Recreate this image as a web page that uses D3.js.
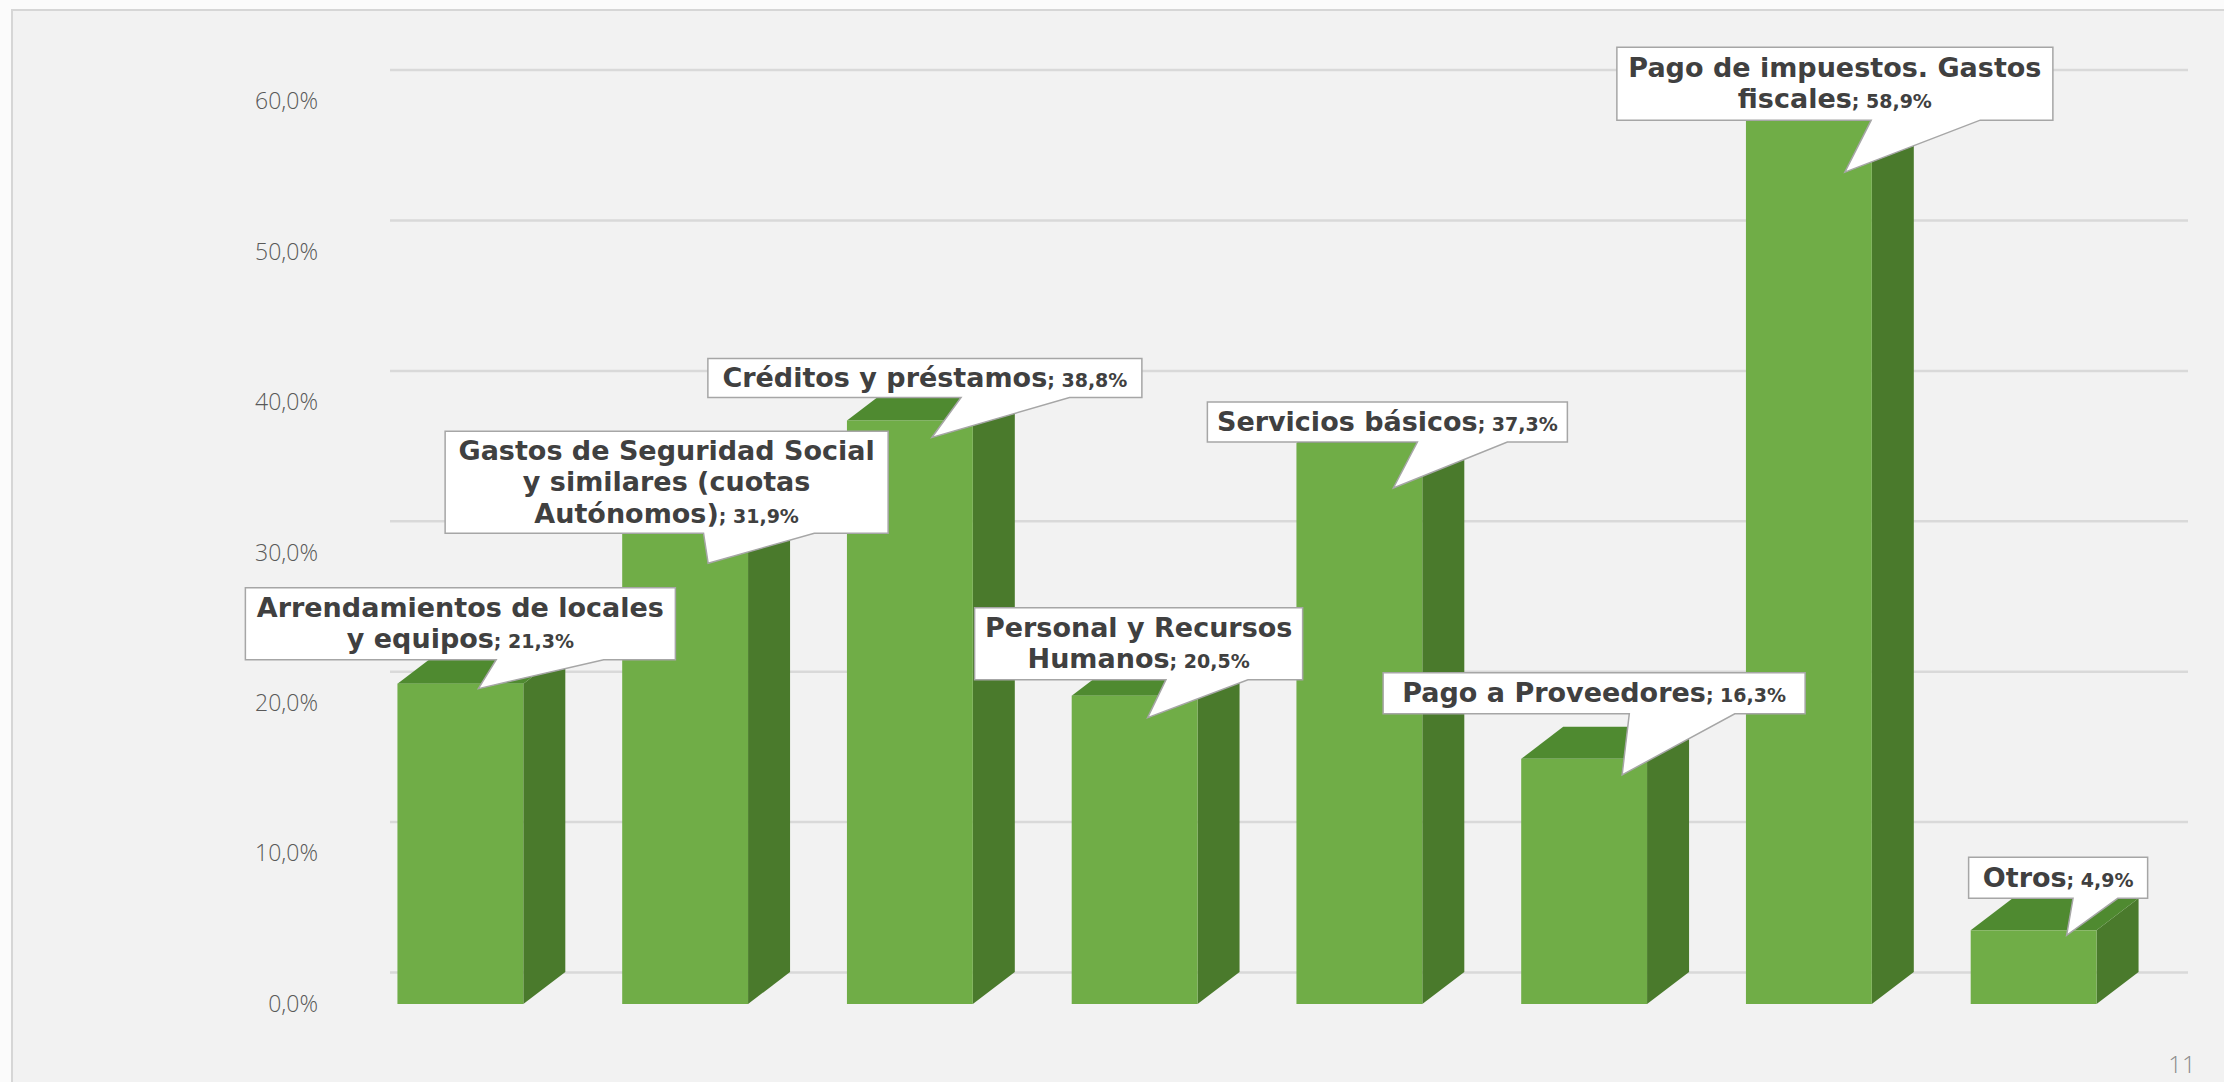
<!DOCTYPE html>
<html>
<head>
<meta charset="utf-8">
<script src="https://cdn.jsdelivr.net/npm/d3@7/dist/d3.min.js"></script>
<style>
  html, body { margin: 0; padding: 0; background: #ffffff; overflow: hidden; }
  svg { display: block; }
</style>
</head>
<body>
<svg id="chart" width="2224" height="1082"></svg>
<script>
// ---------------- data ----------------
const categories = [
  "Arrendamientos de locales y equipos",
  "Gastos de Seguridad Social y similares (cuotas Autónomos)",
  "Créditos y préstamos",
  "Personal y Recursos Humanos",
  "Servicios básicos",
  "Pago a Proveedores",
  "Pago de impuestos. Gastos fiscales",
  "Otros"
];
const labelLines = [
  ["Arrendamientos de locales", "y equipos"],
  ["Gastos de Seguridad Social", "y similares (cuotas", "Autónomos)"],
  ["Créditos y préstamos"],
  ["Personal y Recursos", "Humanos"],
  ["Servicios básicos"],
  ["Pago a Proveedores"],
  ["Pago de impuestos. Gastos", "fiscales"],
  ["Otros"]
];
const values = [21.3, 31.9, 38.8, 20.5, 37.3, 16.3, 58.9, 4.9];
const yTicks = [0, 10, 20, 30, 40, 50, 60];
const pageNumber = "11";

// ---------------- layout (positions / sizes only) ----------------
// callout box offset from bar anchor (front-top-centre), box size, wedge tip offset
const labelLayout = [
  { dx: -215, dy: -96, w: 430, h: 72,  tdx: 18, tdy: 5 },
  { dx: -240, dy: -93, w: 443, h: 102, tdx: 23, tdy: 39 },
  { dx: -202, dy: -62, w: 434, h: 39,  tdx: 22, tdy: 17 },
  { dx: -160, dy: -88, w: 328, h: 72,  tdx: 13, tdy: 22 },
  { dx: -152, dy: -41, w: 360, h: 40,  tdx: 34, tdy: 45 },
  { dx: -201, dy: -86, w: 422, h: 41,  tdx: 38, tdy: 16 },
  { dx: -192, dy: -71, w: 436, h: 73,  tdx: 36, tdy: 54 },
  { dx: -65,  dy: -73, w: 179, h: 41,  tdx: 33, tdy: 5 }
];
const W = 2224, H = 1082;
const plot = { left: 348, right: 2146, bottom: 1004, top: 101.6 };
const depth = { dx: 42, dy: -32 };
const colors = {
  front: "#70ad47", side: "#4a7a2c", top: "#4f8a30",
  grid: "#d9d9d9", text: "#404040", tick: "#595959", panel: "#f2f2f2"
};
const labelFont = "'DejaVu Sans', 'Open Sans', sans-serif";

const locale = d3.formatLocale({ decimal: ",", thousands: ".", grouping: [3], currency: ["", "€"] });
const f1 = locale.format(".1f");
const pct = v => f1(v) + "%";

const svg = d3.select("#chart");

// panel background
svg.append("rect").attr("x", 0).attr("y", 0).attr("width", W).attr("height", H).attr("fill", "#fbfbfb");
svg.append("rect").attr("x", 12).attr("y", 10).attr("width", W + 20).attr("height", H + 20)
  .attr("fill", colors.panel).attr("stroke", "#d6d6d6").attr("stroke-width", 2);

// scales
const x = d3.scaleBand().domain(categories).range([plot.left, plot.right])
  .paddingInner(0.44).paddingOuter(0.22);
const y = d3.scaleLinear().domain([0, 60]).range([plot.bottom, plot.top]);

// back-wall gridlines (offset by depth)
const gridAxis = d3.axisLeft(y).tickValues(yTicks).tickSize(-(plot.right - plot.left)).tickFormat("");
const gridG = svg.append("g")
  .attr("transform", `translate(${plot.left + depth.dx},${depth.dy})`)
  .call(gridAxis);
gridG.select(".domain").remove();
gridG.selectAll(".tick line").attr("stroke", colors.grid).attr("stroke-width", 2.5);

// y tick labels
const yAxis = d3.axisLeft(y).tickValues(yTicks).tickSize(0).tickPadding(0).tickFormat(pct);
const yG = svg.append("g").attr("transform", "translate(318,0)").call(yAxis);
yG.select(".domain").remove();
yG.selectAll(".tick text")
  .attr("fill", colors.tick)
  .style("font-family", "'Open Sans', 'Noto Sans', sans-serif")
  .style("font-weight", 300)
  .style("font-size", "23px");

// 3D bars
const data = categories.map((c, i) => ({ c, v: values[i], lines: labelLines[i], lay: labelLayout[i] }));
const bars = svg.append("g").selectAll("g.bar").data(data).join("g").attr("class", "bar");
const bw = x.bandwidth();
bars.append("path") // side face
  .attr("fill", colors.side)
  .attr("d", d => {
    const x1 = x(d.c) + bw, yt = y(d.v), yb = y(0);
    return `M${x1},${yt}L${x1 + depth.dx},${yt + depth.dy}L${x1 + depth.dx},${yb + depth.dy}L${x1},${yb}Z`;
  });
bars.append("path") // top face
  .attr("fill", colors.top)
  .attr("d", d => {
    const x0 = x(d.c), x1 = x0 + bw, yt = y(d.v);
    return `M${x0},${yt}L${x0 + depth.dx},${yt + depth.dy}L${x1 + depth.dx},${yt + depth.dy}L${x1},${yt}Z`;
  });
bars.append("rect") // front face
  .attr("fill", colors.front)
  .attr("x", d => x(d.c)).attr("width", bw)
  .attr("y", d => y(d.v)).attr("height", d => y(0) - y(d.v));

// callout labels
const lineH = 31.5;
const labels = svg.append("g").selectAll("g.lbl").data(data).join("g").attr("class", "lbl");
labels.each(function (d) {
  const g = d3.select(this);
  const ax = x(d.c) + bw / 2, ay = y(d.v);
  const L = d.lay;
  const bx = ax + L.dx, by = ay + L.dy, w = L.w, h = L.h;
  const tx = ax + L.tdx, ty = ay + L.tdy;
  const right = tx > bx + w / 2;
  const b1 = bx + w * (right ? 7 : 2) / 12, b2 = bx + w * (right ? 10 : 5) / 12;
  g.append("path")
    .attr("d", `M${bx},${by}H${bx + w}V${by + h}H${b2}L${tx},${ty}L${b1},${by + h}H${bx}Z`)
    .attr("fill", "#ffffff").attr("stroke", "#a6a6a6").attr("stroke-width", 1.5)
    .attr("stroke-linejoin", "miter");
  const n = d.lines.length;
  const y0 = by + h / 2 - (n - 1) * lineH / 2 + 9;
  d.lines.forEach((ln, k) => {
    const txt = g.append("text")
      .attr("x", bx + w / 2).attr("y", y0 + k * lineH)
      .attr("text-anchor", "middle")
      .attr("fill", colors.text)
      .style("font-family", labelFont)
      .style("font-weight", 700);
    txt.append("tspan").style("font-size", "27px").text(ln);
    if (k === n - 1) {
      txt.append("tspan").style("font-size", "19px").text("; " + pct(d.v));
    }
    const bb = txt.node().getBBox();
    if (bb.width > w - 10) {
      const s = (w - 10) / bb.width;
      const cx = bx + w / 2, cy = y0 + k * lineH;
      txt.attr("transform", `translate(${cx},${cy}) scale(${s},1) translate(${-cx},${-cy})`);
    }
  });
});

// page number
svg.append("text").attr("x", 2182).attr("y", 1073).attr("text-anchor", "middle")
  .attr("fill", "#8c8c8c")
  .style("font-family", "'Open Sans', 'Noto Sans', sans-serif")
  .style("font-weight", 300).style("font-size", "24px")
  .text(pageNumber);
</script>
</body>
</html>
